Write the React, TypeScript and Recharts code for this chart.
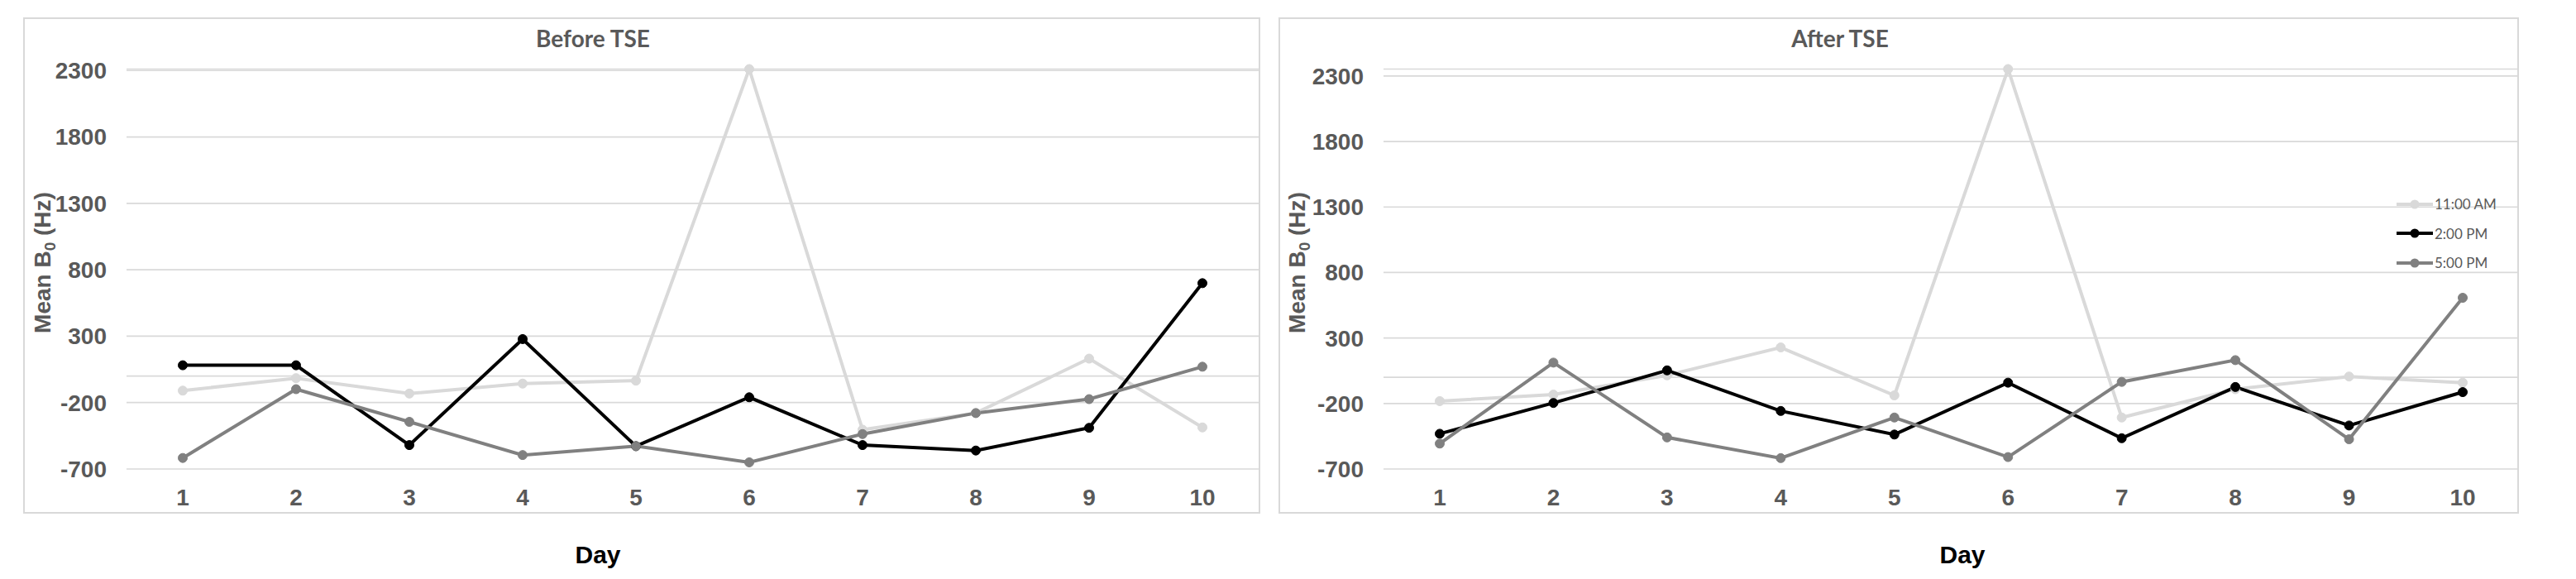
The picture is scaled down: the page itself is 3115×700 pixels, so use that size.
import React from 'react';
import { LineChart, Line, XAxis, YAxis, CartesianGrid, ReferenceLine, Legend } from 'recharts';

const days = ['1', '2', '3', '4', '5', '6', '7', '8', '9', '10'];
const seriesNames = ['11:00 AM', '2:00 PM', '5:00 PM'];
const seriesColors = ['#D9D9D9', '#000000', '#808080'];

const beforeAm11 = [-110, -16, -132, -57, -35, 2311, -404, -279, 131, -387];
const beforePm2 = [81, 81, -520, 278, -528, -160, -520, -561, -390, 699];
const beforePm5 = [-617, -99, -345, -595, -528, -650, -437, -279, -174, 70];

const afterAm11 = [-182, -132, 15, 228, -138, 2353, -307, -91, 6, -41];
const afterPm2 = [-431, -196, 53, -257, -437, -41, -465, -74, -368, -113];
const afterPm5 = [-506, 112, -459, -617, -307, -609, -35, 131, -473, 607];

const yTicks = [-700, -200, 300, 800, 1300, 1800, 2300];
const panelTitles = ['Before TSE', 'After TSE'];
const xTitle = 'Day';

const GRID = '#D9D9D9';
const TEXT = '#595959';

function buildRows(a: number[], b: number[], c: number[]) {
  return days.map((d, i) => ({ day: d, s0: a[i], s1: b[i], s2: c[i] }));
}

const LegendContent = () => (
  <div style={{ fontFamily: 'Lato, sans-serif', fontSize: 17, color: TEXT }}>
    {seriesNames.map((n, i) => (
      <div key={n} style={{ display: 'flex', alignItems: 'center', height: 35.5 }}>
        <svg width={45} height={14} style={{ display: 'block' }}>
          <line x1={0} y1={7} x2={44} y2={7} stroke={seriesColors[i]} strokeWidth={4} />
          <circle cx={22} cy={7} r={5.5} fill={seriesColors[i]} />
        </svg>
        <span style={{ marginLeft: 1 }}>{n}</span>
      </div>
    ))}
  </div>
);

type PanelProps = {
  left: number;
  width: number;
  yAxisWidth: number;
  rightMargin: number;
  rows: any[];
  showLegend: boolean;
};

const tickStyle = { fill: TEXT, fontSize: 28, fontWeight: 700, fontFamily: 'Liberation Sans, Arial, sans-serif' };

const Panel = ({ left, width, yAxisWidth, rightMargin, rows, showLegend }: PanelProps) => (
  <div style={{ position: 'absolute', left, top: 21, width, height: 600 }}>
    <div
      style={{
        position: 'absolute',
        left: 0,
        top: 0,
        width,
        height: 600,
        border: `2px solid ${GRID}`,
        boxSizing: 'border-box',
      }}
    />
    <LineChart
      width={width}
      height={600}
      data={rows}
      margin={{ top: 62.5, right: rightMargin, bottom: 0, left: 0 }}
    >
      <CartesianGrid horizontal vertical={false} stroke={GRID} strokeWidth={1.7} />
      <XAxis
        dataKey="day"
        height={54}
        axisLine={false}
        tickLine={false}
        tickSize={0}
        tickMargin={24}
        padding={{ left: 68, right: 68 }}
        interval={0}
        tick={tickStyle}
      />
      <YAxis
        type="number"
        domain={[-700, 2300]}
        ticks={yTicks}
        width={yAxisWidth}
        axisLine={false}
        tickLine={false}
        tickSize={0}
        tickMargin={24}
        interval={0}
        tick={tickStyle}
      />
      <ReferenceLine y={0} stroke={GRID} strokeWidth={1.7} />
      {seriesNames.map((n, i) => (
        <Line
          key={n}
          name={n}
          dataKey={`s${i}`}
          stroke={seriesColors[i]}
          strokeWidth={4}
          dot={{ r: 5.5, fill: seriesColors[i], stroke: seriesColors[i], strokeWidth: 1 }}
          activeDot={false}
          isAnimationActive={false}
        />
      ))}
      {showLegend && (
        <Legend
          layout="vertical"
          align="center"
          verticalAlign="middle"
          content={<LegendContent />}
          wrapperStyle={{ position: 'absolute', left: 1352, top: 208, width: 140, height: 110 }}
        />
      )}
    </LineChart>
  </div>
);

const YTitle = ({ x }: { x: number }) => (
  <text
    transform={`translate(${x},317.5) rotate(-90)`}
    textAnchor="middle"
    fill={TEXT}
    fontSize={28}
    fontWeight={700}
    fontFamily="Liberation Sans, Arial, sans-serif"
  >
    Mean B
    <tspan fontSize={19} dy={6}>0</tspan>
    <tspan dy={-6}>{'  (Hz)'}</tspan>
  </text>
);

export default function App() {
  const before = buildRows(beforeAm11, beforePm2, beforePm5);
  const after = buildRows(afterAm11, afterPm2, afterPm5);
  return (
    <div style={{ position: 'absolute', left: 0, top: 0, width: 3115, height: 700, background: '#fff' }}>
      <Panel left={28} width={1496} yAxisWidth={125} rightMargin={2} rows={before} showLegend={false} />
      <Panel left={1546} width={1500} yAxisWidth={127} rightMargin={0} rows={after} showLegend={true} />
      <svg
        width={3115}
        height={700}
        style={{ position: 'absolute', left: 0, top: 0, pointerEvents: 'none' }}
      >
        <text x={717} y={57} textAnchor="middle" fill={TEXT} fontSize={28} fontWeight={700} fontFamily="Lato, sans-serif">
          {panelTitles[0]}
        </text>
        <text x={2225} y={57} textAnchor="middle" fill={TEXT} fontSize={28} fontWeight={700} fontFamily="Lato, sans-serif">
          {panelTitles[1]}
        </text>
        <text x={723} y={681} textAnchor="middle" fill="#000" fontSize={30} fontWeight={700} fontFamily="Liberation Sans, Arial, sans-serif">
          {xTitle}
        </text>
        <text x={2373} y={681} textAnchor="middle" fill="#000" fontSize={30} fontWeight={700} fontFamily="Liberation Sans, Arial, sans-serif">
          {xTitle}
        </text>
        <YTitle x={61} />
        <YTitle x={1578} />
      </svg>
    </div>
  );
}
